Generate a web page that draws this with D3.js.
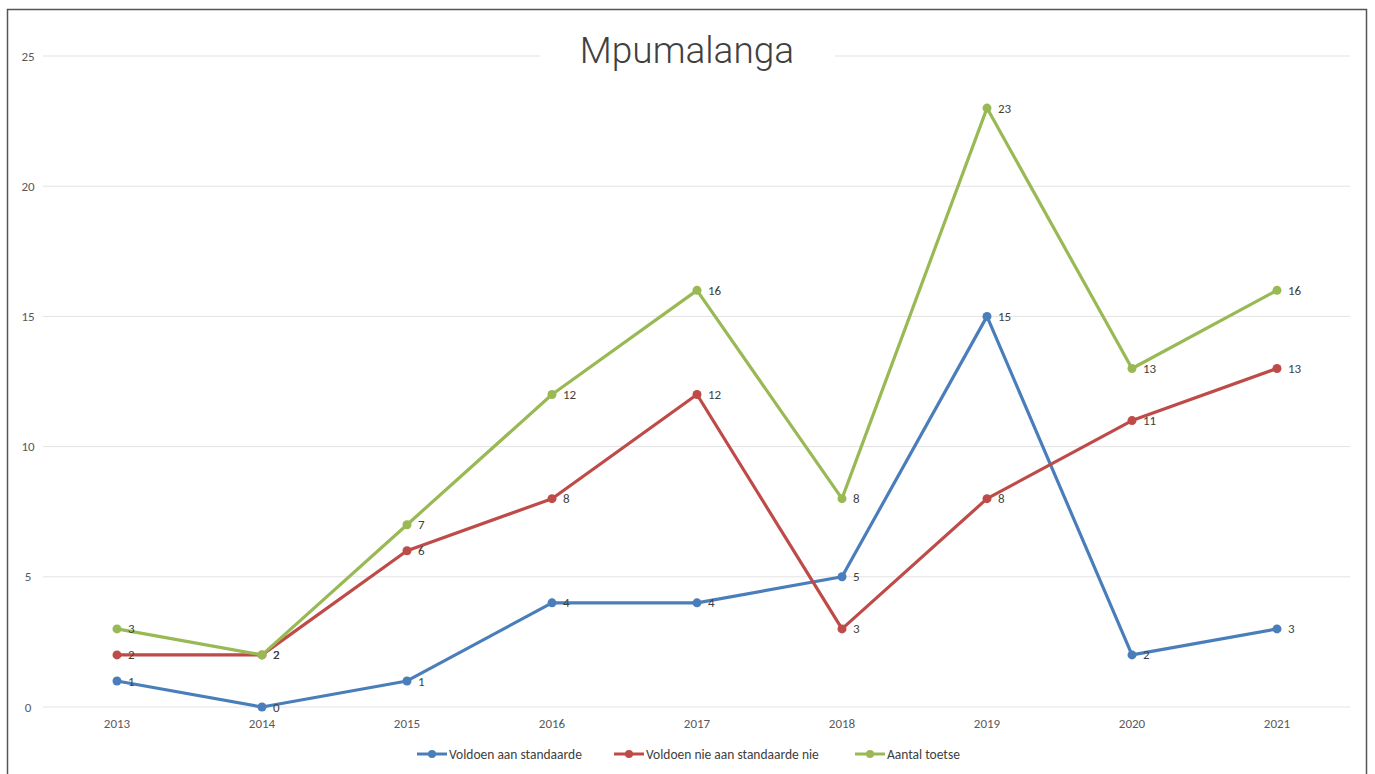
<!DOCTYPE html>
<html>
<head>
<meta charset="utf-8">
<script src="https://cdn.jsdelivr.net/npm/d3@7"></script>
<style>
  body { margin: 0; background: #fff; }
  svg { font-family: Calibri, Carlito, "Liberation Sans", "Open Sans", sans-serif; }
</style>
</head>
<body>
<div id="chart"></div>
<script>
// chart data
const years = ["2013", "2014", "2015", "2016", "2017", "2018", "2019", "2020", "2021"];
const voldoen = [1, 0, 1, 4, 4, 5, 15, 2, 3];
const nieVoldoen = [2, 2, 6, 8, 12, 3, 8, 11, 13];
const aantal = [3, 2, 7, 12, 16, 8, 23, 13, 16];
const yTicks = [0, 5, 10, 15, 20, 25];
const seriesNames = ["Voldoen aan standaarde", "Voldoen nie aan standaarde nie", "Aantal toetse"];

function init() {
  const W = 1375, H = 774;
  const svg = d3.select("#chart").append("svg")
    .attr("width", W).attr("height", H);

  // outer frame
  svg.append("rect")
    .attr("x", 7.5).attr("y", 9.5)
    .attr("width", 1359).attr("height", 780)
    .attr("fill", "#fff").attr("stroke", "#555").attr("stroke-width", 1.5);

  const x = d3.scalePoint().domain(years).range([117, 1277]);
  const y = d3.scaleLinear().domain([0, 25]).range([707, 56]);

  // gridlines
  svg.append("g").selectAll("line").data(yTicks).enter().append("line")
    .attr("x1", 43).attr("x2", 1350)
    .attr("y1", d => y(d)).attr("y2", d => y(d))
    .attr("stroke", "#e3e3e3").attr("stroke-width", 1);

  // y axis labels
  svg.append("g").selectAll("text").data(yTicks).enter().append("text")
    .attr("x", 28).attr("y", d => y(d)).attr("dy", "0.35em")
    .attr("text-anchor", "middle")
    .attr("font-size", 13).attr("fill", "#595959")
    .text(d => d);

  // x axis labels
  svg.append("g").selectAll("text").data(years).enter().append("text")
    .attr("x", d => x(d)).attr("y", 728)
    .attr("text-anchor", "middle")
    .attr("font-size", 13).attr("fill", "#595959")
    .text(d => d);

  // title with white backing over the gridline
  svg.append("rect")
    .attr("x", 540).attr("y", 30).attr("width", 295).attr("height", 44)
    .attr("fill", "#fff");
  svg.append("text")
    .attr("x", 687).attr("y", 63)
    .attr("text-anchor", "middle")
    .attr("font-family", "Roboto, 'Open Sans', sans-serif")
    .attr("font-weight", 300)
    .attr("font-size", 37).attr("fill", "#404040")
    .text("Mpumalanga");

  const series = [
    { name: seriesNames[0], values: voldoen, color: "#4a7ebb" },
    { name: seriesNames[1], values: nieVoldoen, color: "#be4b48" },
    { name: seriesNames[2], values: aantal, color: "#98b954" }
  ];

  const line = d3.line()
    .x((d, i) => x(years[i]))
    .y(d => y(d));

  series.forEach(s => {
    const g = svg.append("g");
    g.append("path")
      .attr("d", line(s.values))
      .attr("fill", "none")
      .attr("stroke", s.color)
      .attr("stroke-width", 3.2)
      .attr("stroke-linejoin", "round");
    g.selectAll("circle").data(s.values).enter().append("circle")
      .attr("cx", (d, i) => x(years[i]))
      .attr("cy", d => y(d))
      .attr("r", 4.5)
      .attr("fill", s.color);
    g.selectAll("text").data(s.values).enter().append("text")
      .attr("x", (d, i) => x(years[i]) + 11)
      .attr("y", d => y(d)).attr("dy", "0.35em")
      .attr("font-size", 13).attr("fill", "#404040")
      .text(d => d);
  });

  // legend
  const legendX = [417, 614, 855];
  const legend = svg.append("g");
  series.forEach((s, i) => {
    const lg = legend.append("g").attr("transform", `translate(${legendX[i]},754)`);
    lg.append("line").attr("x1", 0).attr("x2", 30)
      .attr("stroke", s.color).attr("stroke-width", 3);
    lg.append("circle").attr("cx", 15).attr("r", 4).attr("fill", s.color);
    lg.append("text").attr("x", 32).attr("dy", "0.35em")
      .attr("font-size", 13.5).attr("fill", "#404040")
      .text(s.name);
  });
}

window.onload = init;
</script>
</body>
</html>
